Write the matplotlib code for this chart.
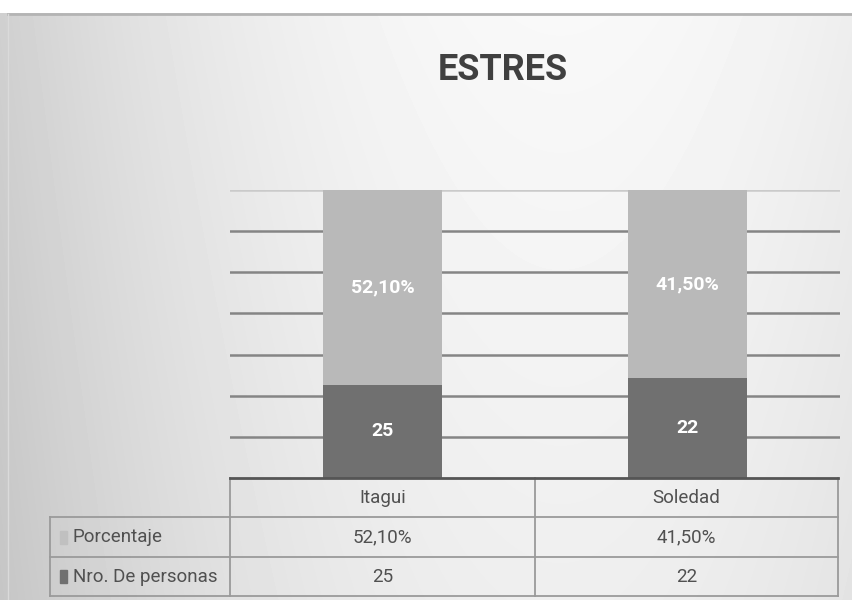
import numpy as np
import matplotlib.pyplot as plt
from matplotlib.patches import Rectangle

plt.rcParams['font.family'] = ['Roboto', 'DejaVu Sans']

# datos
ciudades = ['Itagui', 'Soledad']
personas = np.array([25, 22])
porcentaje = np.array([52.10, 41.50])
etiq_personas = ['25', '22']
etiq_porcentaje = ['52,10%', '41,50%']

W, H = 852, 600
fig = plt.figure(figsize=(W / 100, H / 100), dpi=100)

# fondo: panel con degradado horizontal (claro al centro, gris en los bordes)
bg = fig.add_axes([0, 0, 1, 1])
yy, xx = np.mgrid[0:H, 0:W].astype(float)
h = (xx - 560) / 560
img = 0.975 - 0.16 * h ** 2 - 0.04 * (yy / H)
img[:13, :] = 1.0
bg.imshow(img, cmap='gray', vmin=0, vmax=1, extent=[0, W, H, 0], aspect='auto')
bg.plot([8, W], [14, 14], color='#b4b4b4', lw=2)
bg.plot([8, 8], [14, H], color='#dadada', lw=1)
bg.set_xlim(0, W); bg.set_ylim(H, 0)
bg.axis('off')

def fx(px): return px / W
def fy(py): return 1 - py / H

# barras apiladas al 100%
ax = fig.add_axes([fx(230), fy(478), fx(840) - fx(230), fy(190) - fy(478)])
ax.set_facecolor('none')
total = personas + porcentaje
p_dark = personas / total
p_light = porcentaje / total
x = np.array([0.5, 1.5])
for k in range(1, 8):
    ax.axhline(k / 7, color='#858585' if k < 7 else '#cacaca', lw=1.8, zorder=1)
ax.bar(x, p_dark, width=0.39, color='#707070', zorder=2)
ax.bar(x, p_light, bottom=p_dark, width=0.39, color='#b9b9b9', zorder=2)
for xi, a, b, la, lb in zip(x, p_dark, p_light, etiq_personas, etiq_porcentaje):
    ax.text(xi, a / 2, la, ha='center', va='center', color='white',
            fontsize=14, fontweight='bold', zorder=3)
    ax.text(xi, a + b / 2, lb, ha='center', va='center', color='white',
            fontsize=14, fontweight='bold', zorder=3)
ax.set_xlim(0, 2); ax.set_ylim(0, 1)
ax.axis('off')

fig.text(fx(503), fy(70), 'ESTRES', ha='center', va='center', fontsize=26,
         fontweight='bold', color='#404040')

# tabla de datos
tc = '#9a9a9a'
fs = 13.5
cols = [50, 230, 535, 838]
rows = [478, 517, 557, 596]
tab = fig.add_axes([0, 0, 1, 1])
tab.set_xlim(0, W); tab.set_ylim(H, 0)
tab.axis('off')
for r in rows[1:]:
    tab.plot([50, 838], [r, r], color=tc, lw=1.3)
tab.plot([50, 50], [517, 596], color=tc, lw=1.3)
for c in cols[1:]:
    tab.plot([c, c], [478, 596], color=tc, lw=1.3)
tab.plot([230, 838], [478, 478], color='#555555', lw=2)
for i, nombre in enumerate(ciudades):
    cx = (cols[i + 1] + cols[i + 2]) / 2
    tab.text(cx, 498, nombre, ha='center', va='center', fontsize=fs, color='#505050')
    tab.text(cx, 537, etiq_porcentaje[i], ha='center', va='center', fontsize=fs, color='#505050')
    tab.text(cx, 577, etiq_personas[i], ha='center', va='center', fontsize=fs, color='#505050')
tab.add_patch(Rectangle((60, 531), 7, 13, color='#c0c0c0'))
tab.add_patch(Rectangle((60, 570), 7, 13, color='#707070'))
tab.text(73, 537, 'Porcentaje', ha='left', va='center', fontsize=fs, color='#505050')
tab.text(73, 577, 'Nro. De personas', ha='left', va='center', fontsize=fs, color='#505050')

fig.savefig('out.png', dpi=100)
